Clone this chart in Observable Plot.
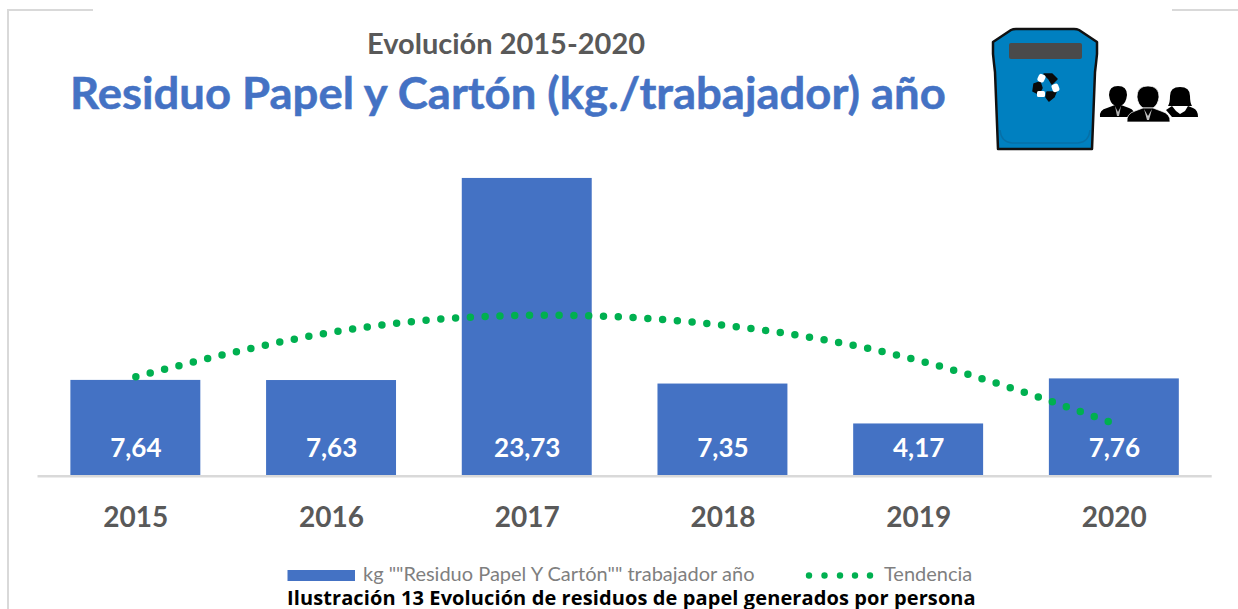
<!DOCTYPE html>
<html><head><meta charset="utf-8">
<script src="https://cdn.jsdelivr.net/npm/d3@7"></script>
<script src="https://cdn.jsdelivr.net/npm/@observablehq/plot@0.6"></script>
<style>
html,body{margin:0;padding:0;background:#fff;overflow:hidden}
#page{position:relative;width:1238px;height:609px;font-family:Lato,sans-serif}
#page svg{position:absolute;left:0;top:0}
.t{position:absolute;white-space:nowrap;line-height:1;transform-origin:0 50%}
.f{position:absolute;background:#d9d9d9}
</style></head><body><div id="page"></div>
<script>
const years = ["2015","2016","2017","2018","2019","2020"];
const values = [7.64,7.63,23.73,7.35,4.17,7.76];
const valueLabels = ["7,64","7,63","23,73","7,35","4,17","7,76"];
const trend = [7.94,11.47,12.83,12.04,9.23,4.2];
const barColor = "#4472c4", green = "#00b050";

const rows = years.map((year,i)=>({year,value:values[i],label:valueLabels[i],trend:trend[i]}));
const page = document.getElementById("page");

const chart = Plot.plot({
  width:1238,height:609,
  marginLeft:37.5,marginRight:26.3,marginTop:162,marginBottom:133.2,
  style:{background:"transparent",fontFamily:"Lato, sans-serif"},
  x:{domain:years,paddingInner:0.336,paddingOuter:0.168,round:false,label:null},
  y:{domain:[0,25],axis:null},
  marks:[
    Plot.barY(rows,{x:"year",y:"value",fill:barColor}),
    Plot.ruleY([0],{stroke:"#d9d9d9",strokeWidth:2.5}),
    Plot.line(rows,{x:"year",y:"trend",curve:"natural",stroke:green,strokeWidth:7.5,strokeLinecap:"round",strokeDasharray:"0 14.8"}),
    Plot.text(rows,{x:"year",y:0,text:"label",dy:-28,fill:"#fff",fontSize:26,fontWeight:700}),
    Plot.axisX({tickSize:0,tickPadding:31,fontSize:28,fontWeight:700,label:null,fill:"#595959"})
  ]
});
page.appendChild(chart);

function addText(txt,left,top,css){
  const d=document.createElement("div");d.className="t";d.textContent=txt;
  d.style.left=left+"px";d.style.top=top+"px";Object.assign(d.style,css);page.appendChild(d);
}
function addFrame(l,t,w,h){
  const d=document.createElement("div");d.className="f";
  Object.assign(d.style,{left:l+"px",top:t+"px",width:w+"px",height:h+"px"});page.appendChild(d);
}
addFrame(7,9,2,600);addFrame(7,9,86,2);addFrame(1172,9,66,2);

addText("Evolución 2015-2020",367,28,{fontSize:"29px",fontWeight:700,color:"#595959"});
addText("Residuo Papel y Cartón (kg./trabajador) año",70,71,{fontSize:"43px",fontWeight:700,color:barColor,transform:"scaleX(1.057)",webkitTextStroke:"0.5px "+barColor});
addText("kg \"\"Residuo Papel Y Cartón\"\" trabajador año",363,563,{fontSize:"20px",color:"#7f7f7f"});
addText("Tendencia",884,563,{fontSize:"20px",color:"#7f7f7f"});
addText("Ilustración 13 Evolución de residuos de papel generados por persona",287,588,{fontSize:"20px",letterSpacing:"0.1px",fontWeight:700,color:"#000",fontFamily:"'Open Sans',sans-serif"});

const ns="http://www.w3.org/2000/svg";
const deco=document.createElementNS(ns,"svg");
deco.setAttribute("width",1238);deco.setAttribute("height",609);
deco.innerHTML=`
<rect x="287.5" y="570" width="67.5" height="11" fill="${barColor}"/>
<g fill="${green}"><circle cx="809" cy="575.5" r="3.2"/><circle cx="824.500" cy="575.5" r="3.2"/><circle cx="840" cy="575.5" r="3.2"/><circle cx="855" cy="575.5" r="3.2"/><circle cx="870" cy="575.5" r="3.2"/></g>
<path d="M993 42 L1011 30 Q1013 29 1016 29 L1074 29 Q1077 29 1079 30 L1097 42 L1097 54 Q1096 64 1095 72 L1092 149 L998 149 L995 72 Q994 64 993 54 Z" fill="#0080c0" stroke="#111" stroke-width="2.5" stroke-linejoin="round"/>
<path d="M1000 130 Q1001 142 1012 143 L1078 143 Q1089 142 1090 130" fill="none" stroke="#0670a8" stroke-width="1.5"/>
<rect x="1009" y="43" width="73" height="16" rx="2" fill="#4a4a4a"/>
<g fill="#0a0a0a" stroke="#0a0a0a" stroke-width="1.5" stroke-linejoin="round">
<path d="M1044 74 L1052 74 L1057 79 L1052 84 L1049 79 Z"/>
<path d="M1034 84 L1040 82 L1042 88 L1039 94 L1033 91 Z"/>
<path d="M1047 92 L1056 92 L1054 97 L1049 101 L1046 97 Z"/>
</g>
<g fill="#fff">
<rect x="1038" y="74" width="7" height="8" rx="2.500" transform="rotate(25 1041 78)"/>
<rect x="1052" y="84" width="7" height="8" rx="2.500" transform="rotate(-20 1055 88)"/>
<rect x="1037" y="91" width="8" height="6" rx="1.500"/>
</g>
<g fill="#000">
<path d="M1109 95 Q1109 86 1118 86 Q1127 86 1127 95 Q1126 103 1122 105 L1114 105 Q1110 103 1109 95 Z"/>
<path d="M1100 117 Q1099 110 1107 108 L1115 105 L1121 105 L1129 108 Q1135 110 1135 117 Z"/>
<path d="M1170 96 Q1170 87 1180 87 Q1190 87 1190 96 Q1190 103 1192 106 L1168 106 Q1170 103 1170 96 Z"/>
<path d="M1166 110 L1172 106 L1176 111 L1180 114 L1185 111 L1188 106 L1193 108 Q1198 110 1198 117 L1172 117 Z"/>
<path d="M1115 106 L1118 112 L1121 106 L1119 116 L1117 116 Z" fill="#fff" opacity=".7"/>
<path d="M1137 97 Q1137 86 1148 86 Q1159 86 1159 97 Q1158 105 1153 108 L1143 108 Q1138 105 1137 97 Z" stroke="#fff" stroke-width=".7"/>
<path d="M1127 122 Q1126 114 1135 111 L1143 108 L1153 108 L1161 111 Q1171 114 1170 122 Z" stroke="#fff" stroke-width=".7"/>
<path d="M1144 109 L1148 116 L1152 109 L1149 120 L1147 120 Z" fill="#fff" opacity=".75"/>
</g>`;
page.appendChild(deco);
</script></body></html>
